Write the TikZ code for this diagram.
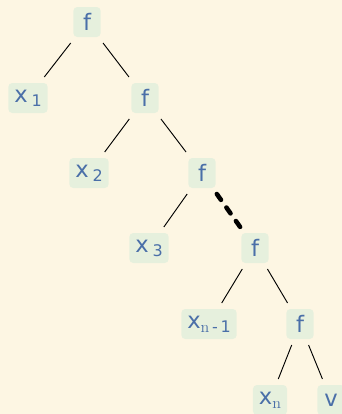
\documentclass[tikz,border=0pt]{standalone}
\usepackage{fontspec}
\newfontfamily\treefont{DejaVu Sans}
\usepackage{xcolor}
\definecolor{cream}{HTML}{FDF6E3}
\definecolor{leafgreen}{HTML}{E6F0DD}
\definecolor{labelblue}{HTML}{4A6FA8}

% lowered subscript, as in the reference
\newcommand{\lowsub}[1]{\raisebox{-3pt}{\fontsize{12}{12}\selectfont #1}}

\begin{document}
\begin{tikzpicture}[
      x=0.75pt, y=-0.75pt,
      treenode/.style={rectangle, rounded corners=3pt, fill=leafgreen, text=labelblue, font=\treefont\fontsize{17}{20}\selectfont, minimum height=22.5pt, minimum width=20.5pt, inner xsep=4.5pt, inner ysep=2pt, outer sep=4.5pt},
      line/.style={draw, line width=0.7pt},
      gap/.style={draw, line width=3.4pt, line cap=round, dash pattern=on 5.4pt off 7pt}
  ]

  \useasboundingbox (0,0) rectangle (342,414);
  \clip (0,0) rectangle (342,414);
  \fill [cream] (0,0) rectangle (342,414);

  \node [treenode] (f1) at (87,22) {f};
  \node [treenode] (x1) at (28,98) {x\,\lowsub{1}};
  \node [treenode] (f2) at (145,98) {f};
  \node [treenode] (x2) at (89,173) {x\,\lowsub{2}};
  \node [treenode] (f3) at (202,173) {f};
  \node [treenode] (x3) at (149,248) {x\,\lowsub{3}};
  \node [treenode] (f4) at (255,248) {f};
  \node [treenode] (xm) at (209,324) {x\lowsub{{\normalfont n}\,-\,1}};
  \node [treenode] (f5) at (300,324) {f};
  \node [treenode] (xn) at (270,400) {x\lowsub{\normalfont n}};
  \node [treenode] (v) at (331,400) {v};

  \path [line] (f1) -- (x1);
  \path [line] (f1) -- (f2);
  \path [line] (f2) -- (x2);
  \path [line] (f2) -- (f3);
  \path [line] (f3) -- (x3);
  \path [gap] (f3) -- (f4);
  \path [line] (f4) -- (xm);
  \path [line] (f4) -- (f5);
  \path [line] (f5) -- (xn);
  \path [line] (f5) -- (v);

\end{tikzpicture}
\end{document}
